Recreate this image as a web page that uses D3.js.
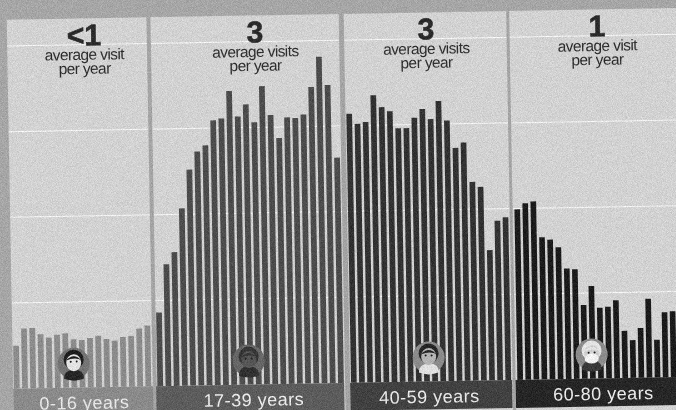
<!DOCTYPE html>
<html>
<head>
<meta charset="utf-8">
<script src="https://cdn.jsdelivr.net/npm/d3@7"></script>
<style>
  html, body { margin: 0; padding: 0; background: #a6a6a6; overflow: hidden; }
  svg { display: block; }
  text { font-family: "Liberation Sans", Arial, sans-serif; text-anchor: middle; }
</style>
</head>
<body>
<svg id="chart" width="676" height="410"></svg>
<script>
const ageLabels = ['0-16 years', '17-39 years', '40-59 years', '60-80 years'];
const visitCounts = ['<1', '3', '3', '1'];
const visitLines = [
  ['average visit', 'per year'],
  ['average visits', 'per year'],
  ['average visits', 'per year'],
  ['average visit', 'per year'],
];

// one bar per year of age, in gridline units
const ages0to16 = [0.5, 0.7, 0.705, 0.63, 0.59, 0.62, 0.635, 0.565, 0.555, 0.575, 0.6, 0.56, 0.54, 0.58, 0.59, 0.675, 0.71];
const ages17to39 = [0.86, 1.42, 1.56, 2.07, 2.52, 2.73, 2.8, 3.09, 3.11, 3.43, 3.13, 3.27, 3.06, 3.48, 3.14, 2.87, 3.11, 3.1, 3.14, 3.46, 3.81, 3.48, 2.63];
const ages40to59 = [3.14, 3.02, 3.04, 3.35, 3.21, 3.16, 2.96, 2.96, 3.08, 3.18, 3.06, 3.27, 3.04, 2.72, 2.78, 2.32, 2.26, 1.52, 1.86, 1.9];
const ages60to80 = [1.99, 2.06, 2.08, 1.66, 1.63, 1.54, 1.29, 1.28, 0.86, 1.08, 0.825, 0.835, 0.91, 0.55, 0.44, 0.58, 0.92, 0.44, 0.76, 0.77, 0.6];
const groups = [ages0to16, ages17to39, ages40to59, ages60to80];
const gridValues = [1, 2, 3, 4];

const barColors = ['#8b8b8b', '#4c4c4c', '#323232', '#1b1b1b'];
const stripColors = ['#8a8a8a', '#5c5c5c', '#414141', '#262626'];
const stripTextColors = ['#e6e6e6', '#ececec', '#e8e8e8', '#ececec'];
const bandRanges = [[8.3, 150.6], [151.8, 343.2], [345.5, 510.5], [511.9, 684]];
const stripRanges = [[10, 150], [153, 341], [347, 509], [512.5, 690]];
const separators = [[149.7, 4], [342, 5], [509.5, 3]];
const labelCenters = [81, 250.5, 426, 600];
const headerCenters = [87, 258, 429, 600];
const avatarCenters = [71, 246, 426, 589];

const baseY = 383;
const y = d3.scaleLinear().domain([0, 4]).range([baseY, 40.2]);

const svg = d3.select('#chart');

const defs = svg.append('defs');
const grain = defs.append('filter').attr('id', 'grain')
  .attr('x', 0).attr('y', 0).attr('width', '100%').attr('height', '100%')
  .attr('color-interpolation-filters', 'sRGB');
grain.append('feGaussianBlur').attr('in', 'SourceGraphic').attr('stdDeviation', 0.4).attr('result', 'soft');
grain.append('feTurbulence').attr('type', 'fractalNoise').attr('baseFrequency', 1.2)
  .attr('numOctaves', 2).attr('seed', 4).attr('result', 'noise');
grain.append('feColorMatrix').attr('in', 'noise').attr('type', 'matrix')
  .attr('values', '1 0 0 0 0  1 0 0 0 0  1 0 0 0 0  0 0 0 0 1').attr('result', 'gray');
grain.append('feComposite').attr('in', 'soft').attr('in2', 'gray').attr('operator', 'arithmetic')
  .attr('k1', 0).attr('k2', 1).attr('k3', 0.22).attr('k4', -0.11);

const page = svg.append('g').attr('filter', 'url(#grain)');
page.append('rect').attr('width', 676).attr('height', 410).attr('fill', '#a6a6a6');

// the whole sheet sits slightly tilted
const sheet = page.append('g').attr('transform', 'rotate(-1 338 205)');

sheet.append('rect').attr('x', 10).attr('y', 14).attr('width', 700).attr('height', 430).attr('fill', '#d2d2d2');

sheet.append('g').selectAll('line').data(gridValues).join('line')
  .attr('x1', 10).attr('x2', 700)
  .attr('y1', y).attr('y2', y)
  .attr('stroke', '#f4f4f4').attr('stroke-width', 1);

sheet.append('g').selectAll('rect').data(separators).join('rect')
  .attr('x', (d) => d[0]).attr('width', (d) => d[1])
  .attr('y', 14).attr('height', 430)
  .attr('fill', '#a4a4a4');

groups.forEach((values, i) => {
  const x = d3.scaleBand().domain(d3.range(values.length)).range(bandRanges[i]).padding(0.3);
  sheet.append('g').selectAll('rect').data(values).join('rect')
    .attr('x', (_d, j) => x(j))
    .attr('width', x.bandwidth())
    .attr('y', (d) => y(d))
    .attr('height', (d) => baseY - y(d))
    .attr('fill', barColors[i]);
});

sheet.append('g').selectAll('rect').data(stripRanges).join('rect')
  .attr('x', (d) => d[0]).attr('width', (d) => d[1] - d[0])
  .attr('y', baseY).attr('height', 28)
  .attr('fill', (_d, i) => stripColors[i]);

sheet.append('g').selectAll('text').data(ageLabels).join('text')
  .attr('x', (_d, i) => labelCenters[i]).attr('y', 404.5)
  .attr('font-size', 18).attr('letter-spacing', 0.5)
  .attr('fill', (_d, i) => stripTextColors[i])
  .text((d) => d);

sheet.append('g').selectAll('text').data(visitCounts).join('text')
  .attr('x', (_d, i) => headerCenters[i]).attr('y', 41)
  .attr('font-size', 30).attr('font-weight', 700)
  .attr('stroke', '#2a2a2a').attr('stroke-width', 0.6)
  .attr('fill', '#2a2a2a')
  .text((d) => d);

visitLines.forEach((lines, i) => {
  sheet.append('g').selectAll('text').data(lines).join('text')
    .attr('x', headerCenters[i]).attr('y', (_d, j) => 55.5 + j * 14)
    .attr('font-size', 15.5).attr('letter-spacing', -0.6)
    .attr('fill', '#2e2e2e')
    .text((d) => d);
});

// little portrait badges, rough shapes only
function drawAvatar(i) {
  const a = sheet.append('g').attr('transform', `translate(${avatarCenters[i]},359)`);
  const ring = ['#747474', '#666666', '#8a8a8a', '#8c8c8c'][i];
  const hair = ['#1e1e1e', '#363636', '#262626', '#e4e4e4'][i];
  const skin = ['#e4e4e4', '#555555', '#b4b4b4', '#cfcfcf'][i];
  const coat = ['#262626', '#303030', '#e0e0e0', '#3a3a3a'][i];
  a.append('circle').attr('r', 16).attr('fill', ring);
  a.append('path').attr('d', 'M-10 15 Q-10 6 0 6 Q10 6 10 15 Q5 17 0 17 Q-5 17 -10 15Z').attr('fill', coat);
  a.append('circle').attr('cy', -4).attr('r', 10).attr('fill', hair);
  a.append('ellipse').attr('cy', -1).attr('rx', 7.5).attr('ry', 8.5).attr('fill', skin);
  a.append('path').attr('d', 'M-8 -3 Q0 -12 8 -3 Q2 -7 -8 -3Z').attr('fill', hair);
  if (i === 3) {
    a.append('ellipse').attr('cy', 4).attr('rx', 7).attr('ry', 5).attr('fill', '#f2f2f2');
  }
  a.selectAll('circle.eye').data([-3, 3]).join('circle').attr('class', 'eye')
    .attr('cx', (d) => d).attr('cy', -2).attr('r', 1).attr('fill', '#1a1a1a');
}
groups.forEach((_values, i) => drawAvatar(i));
</script>
</body>
</html>
